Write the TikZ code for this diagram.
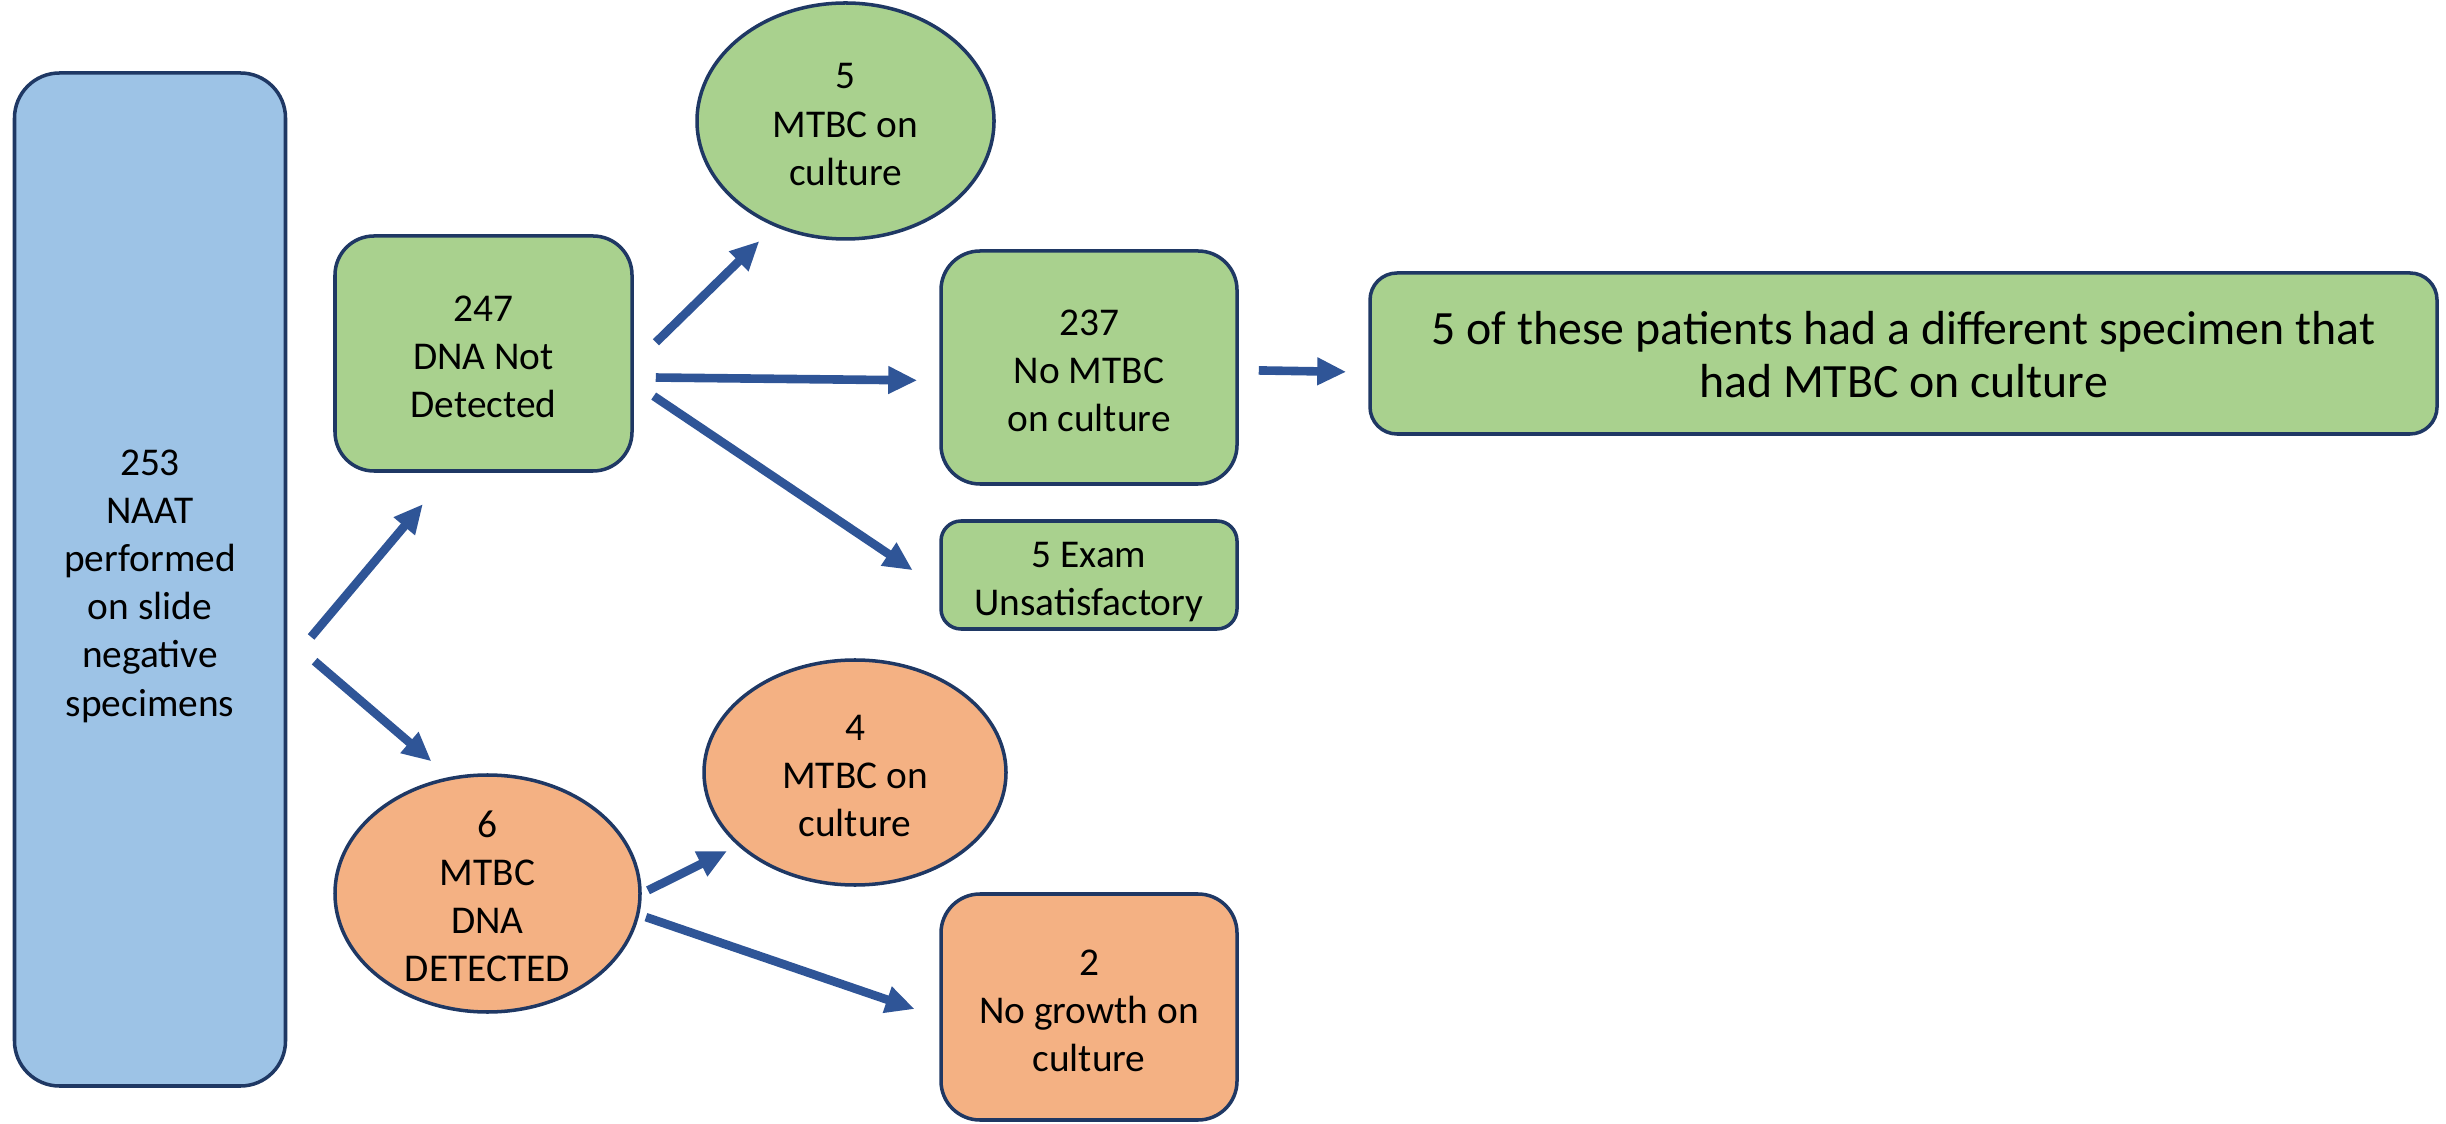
\documentclass[tikz,border=0pt]{standalone}
\usepackage{fontspec}
\setmainfont{Carlito}
\usepackage{tikz}
\usetikzlibrary{shapes.geometric, arrows.meta}

\definecolor{naatblue}{HTML}{9DC3E6}
\definecolor{neggreen}{HTML}{A9D18E}
\definecolor{posorange}{HTML}{F4B183}
\definecolor{edgenavy}{HTML}{1F3864}
\definecolor{arrowblue}{HTML}{2F5597}
\newcommand{\stacktext}[1]{\smash{\raisebox{-0.41em}{\begin{tabular}{@{}c@{}}#1\end{tabular}}}}

\begin{document}
\begin{tikzpicture}[node distance=2cm]
\tikzstyle{base} = [draw=edgenavy, line width=1pt, inner sep=0pt, font=\fontsize{11.2}{13.7}\selectfont]
\tikzstyle{process} = [base, rectangle, rounded corners=0.39cm, fill=neggreen, minimum width=2.96cm, minimum height=2.33cm]
\tikzstyle{result} = [base, ellipse, fill=neggreen, minimum width=2.97cm, minimum height=2.36cm]
\tikzstyle{arrow} = [line width=2.45pt, draw=arrowblue, -{Triangle[length=0.29cm,width=0.26cm]}]

\useasboundingbox (0,0) rectangle (24.46,-11.24);

\node (naat) [process, fill=naatblue, rounded corners=0.45cm, minimum width=2.71cm, minimum height=10.13cm] at (1.50,-5.795) {\stacktext{253\\NAAT\\performed\\on slide\\negative\\specimens}};
\node (dnaneg) [process, minimum width=2.97cm, minimum height=2.35cm] at (4.835,-3.535) {\stacktext{247\\DNA Not\\Detected}};
\node (cultpos) [result] at (8.455,-1.21) {\stacktext{5\\MTBC on\\culture}};
\node (cultneg) [process] at (10.89,-3.675) {\stacktext{237\\No MTBC\\on culture}};
\node (unsat) [process, rounded corners=0.2cm, minimum height=1.08cm] at (10.89,-5.75) {\stacktext{5 Exam\\Unsatisfactory}};
\node (note) [process, rounded corners=0.27cm, minimum width=10.67cm, minimum height=1.61cm, font=\fontsize{13.6}{15.1}\selectfont] at (19.035,-3.535) {\stacktext{5 of these patients had a different specimen that\\had MTBC on culture}};
\node (dnapos) [result, fill=posorange, minimum width=3.05cm, minimum height=2.37cm] at (4.875,-8.935) {\stacktext{6\\MTBC\\DNA\\DETECTED}};
\node (culture4) [result, fill=posorange, minimum width=3.02cm, minimum height=2.25cm] at (8.55,-7.725) {\stacktext{4\\MTBC on\\culture}};
\node (nogrowth) [process, fill=posorange, minimum height=2.26cm] at (10.89,-10.07) {\stacktext{2\\No growth on\\culture}};

\draw [arrow, shorten <=0.37cm, shorten >=0.41cm] (naat.-32) -- (dnaneg.-106);
\draw [arrow, shorten <=0.36cm, shorten >=0.24cm] (naat.-23) -- (dnapos.108);
\draw [arrow, shorten <=0.31cm, shorten >=0.21cm] (dnaneg.-4) -- (cultpos.-124);
\draw [arrow, shorten <=0.22cm, shorten >=0.22cm] (dnaneg.-9) -- (cultneg.185);
\draw [arrow, shorten <=0.24cm, shorten >=0.32cm] (dnaneg.-11) -- (unsat.185);
\draw [arrow, shorten <=0.20cm, shorten >=0.22cm] (cultneg.-1.5) -- (note.182);
\draw [arrow, shorten <=0.07cm, shorten >=0.12cm] (dnapos.0) -- (culture4.-148);
\draw [arrow, shorten <=0.07cm, shorten >=0.26cm] (dnapos.-8) -- (nogrowth.184);
\end{tikzpicture}
\end{document}
